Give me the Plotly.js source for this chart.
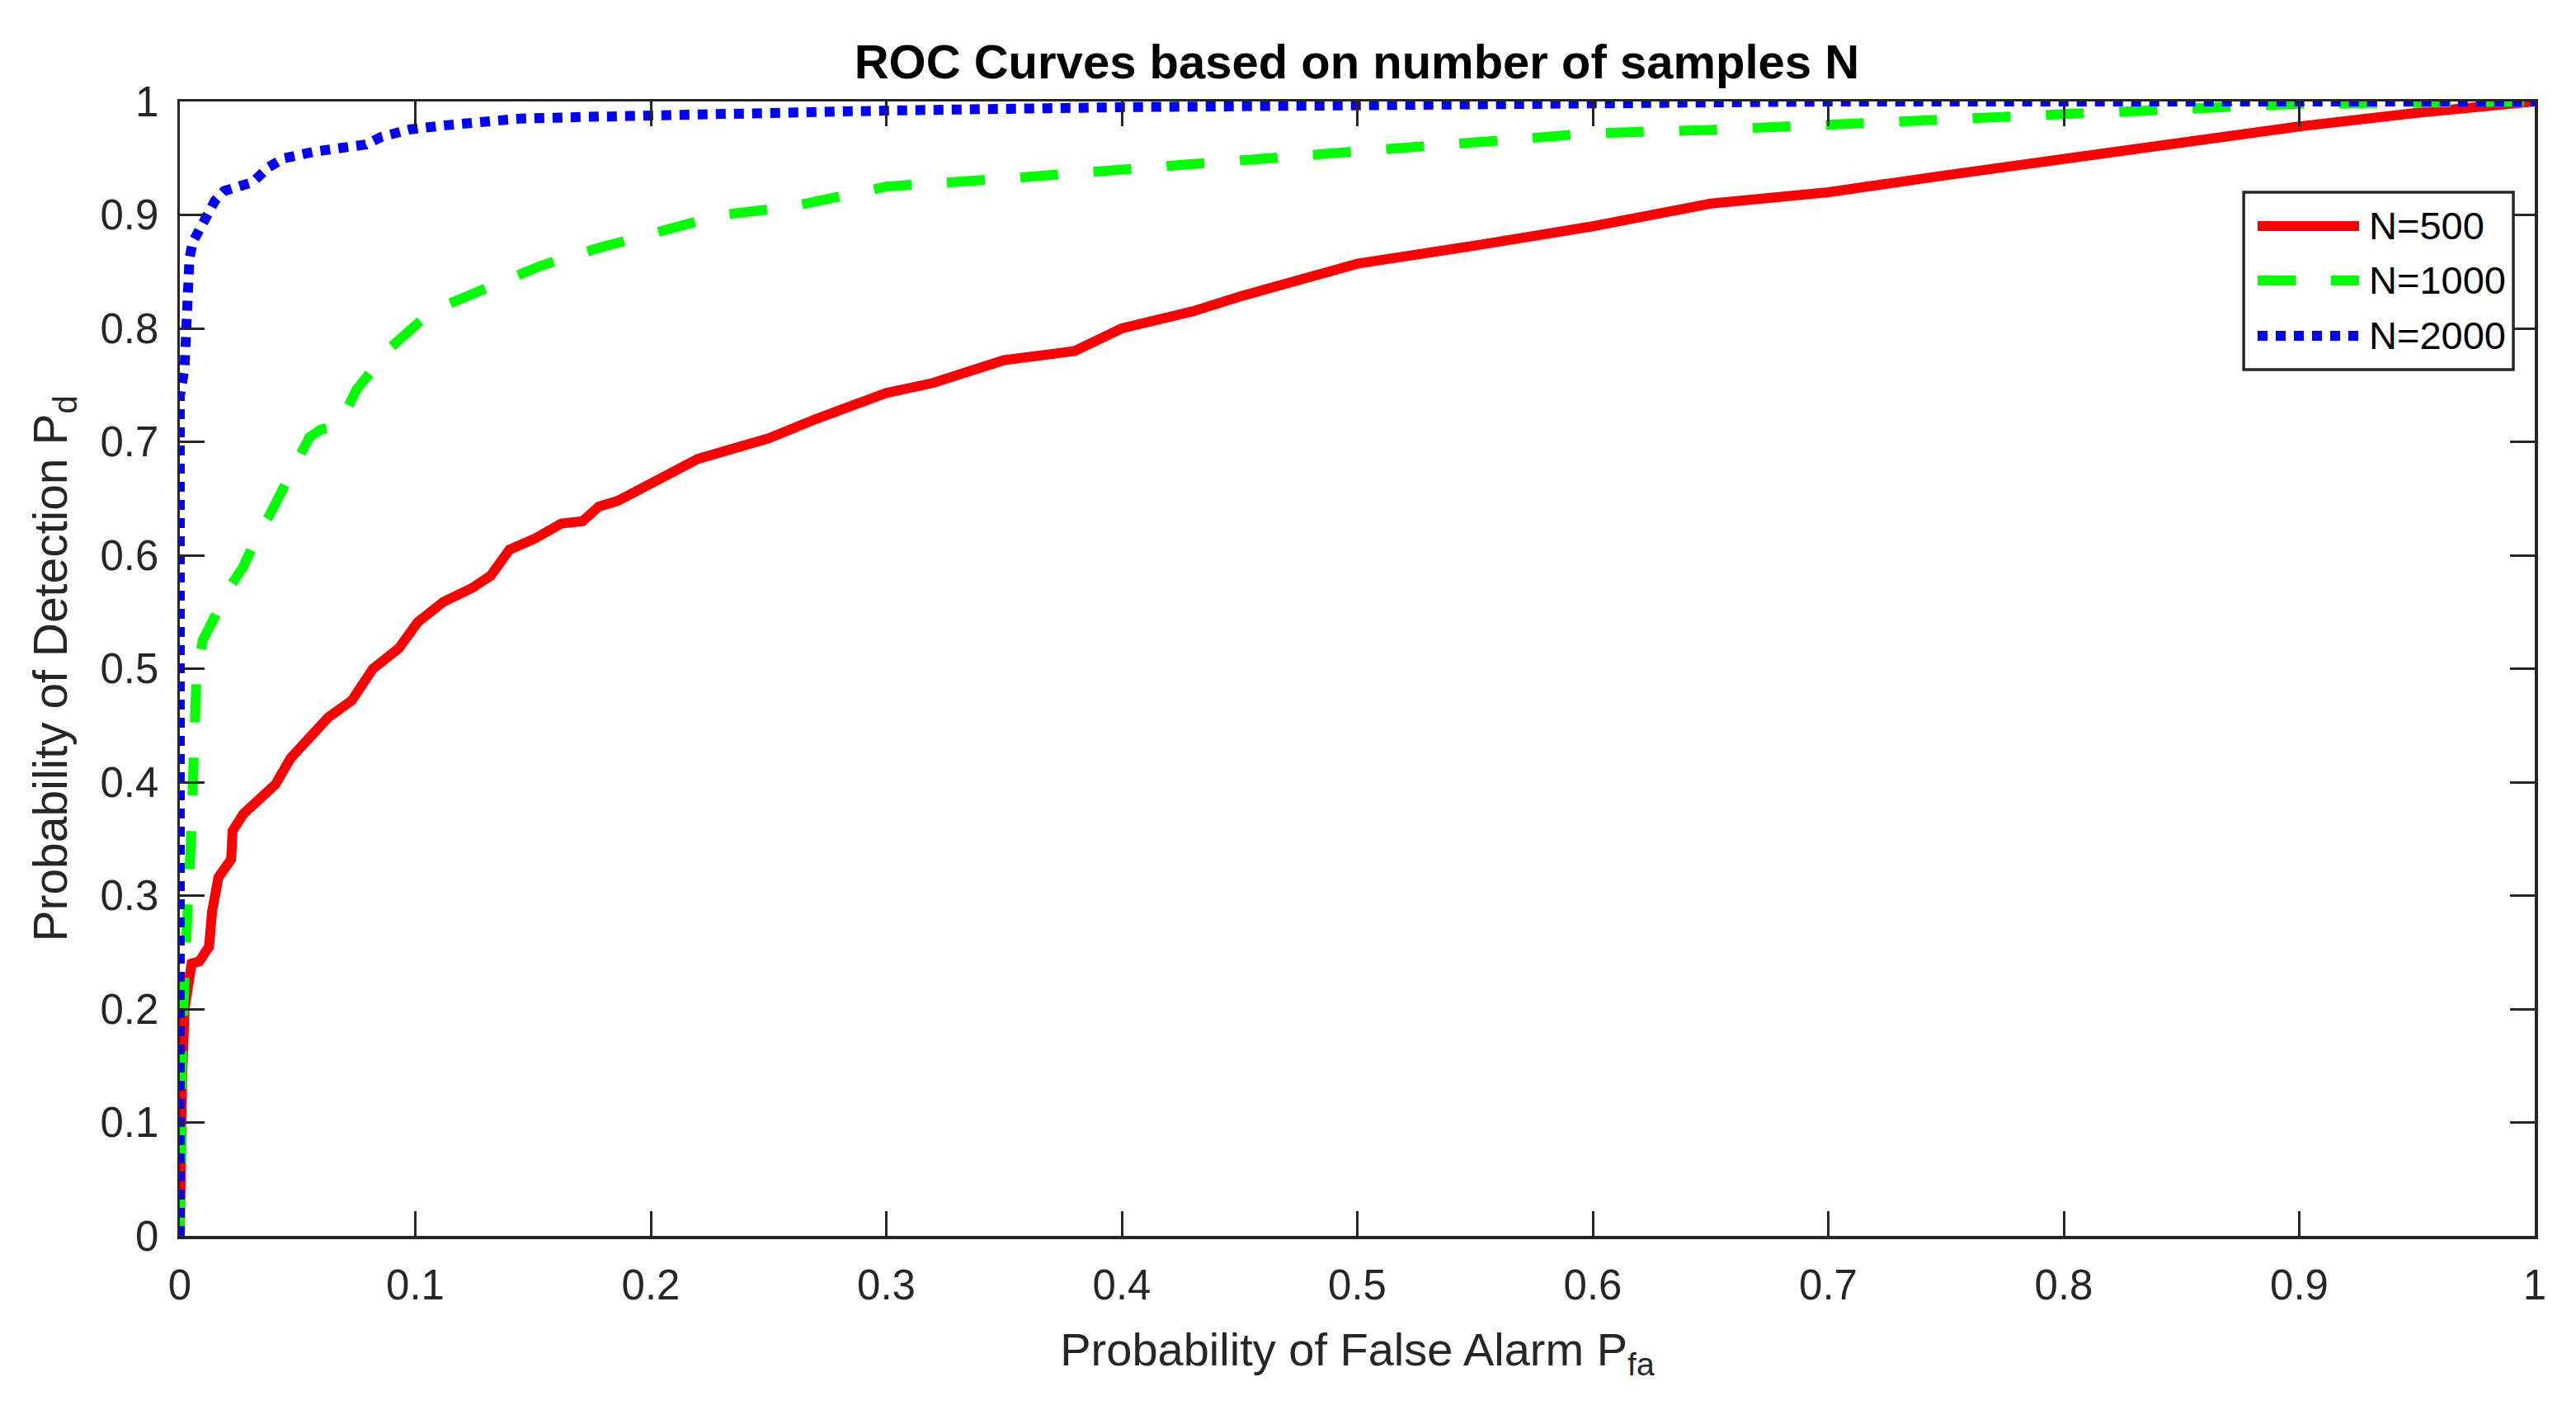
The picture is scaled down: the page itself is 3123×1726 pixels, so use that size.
<!DOCTYPE html>
<html>
<head>
<meta charset="utf-8">
<script src="https://cdn.plot.ly/plotly-3.0.1.min.js"></script>
<style>html,body{margin:0;padding:0;background:#fff;}#chart{width:3123px;height:1726px;}</style>
</head>
<body>
<div id="chart"></div>
<script>
// ---- data ----
const seriesNames = ["N=500", "N=1000", "N=2000"];
const seriesColors = ["#ff0000", "#00ff00", "#0000ff"];
const seriesDash = ["solid", "46px,43px", "12px,10px"];

const pfa500 = [0, 0, 0.001, 0.002, 0.003, 0.004, 0.005, 0.0083, 0.0124, 0.0137, 0.0164, 0.0218, 0.0224, 0.027, 0.034, 0.0406, 0.047, 0.055, 0.063, 0.073, 0.082, 0.093, 0.101, 0.112, 0.124, 0.132, 0.14, 0.151, 0.162, 0.171, 0.178, 0.186, 0.2, 0.22, 0.25, 0.27, 0.3, 0.32, 0.35, 0.38, 0.4, 0.43, 0.45, 0.48, 0.5, 0.55, 0.6, 0.65, 0.7, 0.75, 0.8, 0.85, 0.9, 0.95, 1];
const pd500 = [0, 0.1, 0.14, 0.2, 0.22, 0.235, 0.24, 0.242, 0.255, 0.286, 0.316, 0.332, 0.357, 0.372, 0.385, 0.398, 0.421, 0.439, 0.457, 0.472, 0.5, 0.518, 0.541, 0.559, 0.571, 0.582, 0.605, 0.615, 0.628, 0.63, 0.643, 0.648, 0.664, 0.685, 0.703, 0.72, 0.743, 0.752, 0.772, 0.78, 0.80, 0.815, 0.828, 0.845, 0.857, 0.873, 0.89, 0.91, 0.92, 0.935, 0.95, 0.965, 0.978, 0.99, 1];

const pfa1000 = [0, 0, 0.001, 0.002, 0.003, 0.003, 0.005, 0.006, 0.007, 0.0097, 0.015, 0.0218, 0.027, 0.034, 0.038, 0.0446, 0.05, 0.055, 0.06, 0.0675, 0.075, 0.09, 0.107, 0.13, 0.153, 0.178, 0.203, 0.23, 0.259, 0.3, 0.35, 0.4, 0.45, 0.5, 0.55, 0.6, 0.65, 0.7, 0.75, 0.8, 0.85, 0.9, 1];
const pd1000 = [0, 0.12, 0.17, 0.23, 0.265, 0.3, 0.36, 0.43, 0.49, 0.525, 0.548, 0.574, 0.59, 0.622, 0.635, 0.663, 0.681, 0.704, 0.711, 0.714, 0.746, 0.784, 0.8155, 0.836, 0.855, 0.871, 0.885, 0.9, 0.907, 0.925, 0.932, 0.94, 0.95, 0.958, 0.965, 0.972, 0.975, 0.98, 0.985, 0.99, 0.995, 0.998, 1];

const pfa2000 = [0, 0, 0.002, 0.0025, 0.0034, 0.0041, 0.0055, 0.0088, 0.0122, 0.0149, 0.0188, 0.0242, 0.031, 0.0376, 0.0443, 0.0577, 0.071, 0.079, 0.0858, 0.098, 0.1127, 0.1328, 0.1449, 0.1744, 0.193, 0.25, 0.3, 0.4, 0.5, 0.6, 0.7, 1];
const pd2000 = [0, 0.74, 0.765, 0.8, 0.837, 0.862, 0.876, 0.888, 0.9, 0.9125, 0.921, 0.9236, 0.929, 0.942, 0.95, 0.956, 0.96, 0.962, 0.969, 0.9755, 0.979, 0.9816, 0.985, 0.9865, 0.9876, 0.99, 0.992, 0.995, 0.997, 0.999, 1, 1];

const tickVals = [0, 0.1, 0.2, 0.3, 0.4, 0.5, 0.6, 0.7, 0.8, 0.9, 1];
const tickText = ["0", "0.1", "0.2", "0.3", "0.4", "0.5", "0.6", "0.7", "0.8", "0.9", "1"];

// ---- figure ----
const xs = [pfa500, pfa1000, pfa2000];
const ys = [pd500, pd1000, pd2000];
const traces = seriesNames.map((n, i) => ({
  type: "scatter", mode: "lines", name: n,
  x: xs[i], y: ys[i],
  line: {color: seriesColors[i], width: 12, dash: seriesDash[i], shape: "linear"},
  showlegend: false
}));

const axisColor = "#262626";
const FONT = "Liberation Sans, Arial, Helvetica, sans-serif";

// manual legend (MATLAB style: long sample lines)
const legX0 = 0.8764, legX1 = 0.9909, legY0 = 0.7636, legY1 = 0.92;
const rowY = [0.8902, 0.8422, 0.7935];
const sampleX0 = 0.8823, sampleX1 = 0.9254, textX = 0.9289;
const shapes = [{
  type: "rect", xref: "paper", yref: "paper", x0: legX0, x1: legX1, y0: legY0, y1: legY1,
  line: {color: axisColor, width: 3.5}, fillcolor: "#ffffff", layer: "above"
}];
const annotations = [];
seriesNames.forEach((n, i) => {
  shapes.push({type: "line", xref: "paper", yref: "paper", x0: sampleX0, x1: sampleX1, y0: rowY[i], y1: rowY[i],
    line: {color: seriesColors[i], width: 12, dash: seriesDash[i]}, layer: "above"});
  annotations.push({xref: "paper", yref: "paper", x: textX, y: rowY[i], xanchor: "left", yanchor: "middle",
    text: n, showarrow: false, font: {family: FONT, size: 47, color: "#000000"}});
});

const axisCommon = {
  range: [0, 1], tickvals: tickVals, ticktext: tickText,
  ticks: "inside", ticklen: 30, tickwidth: 3, tickcolor: axisColor,
  showline: true, linecolor: axisColor, linewidth: 3.5, mirror: "ticks",
  showgrid: false, zeroline: false, fixedrange: true,
  tickfont: {family: FONT, size: 51, color: axisColor}
};

const layout = {
  width: 3123, height: 1726,
  margin: {l: 218, r: 50, t: 123, b: 228},
  paper_bgcolor: "#ffffff", plot_bgcolor: "#ffffff",
  font: {family: FONT, color: axisColor},
  title: {text: "<b>ROC Curves based on number of samples N</b>", x: 0.5267, xanchor: "center",
    y: 0.957, yref: "container", yanchor: "middle",
    font: {family: FONT, size: 58, color: "#000000"}},
  xaxis: Object.assign({}, axisCommon, {
    ticklabelstandoff: 12,
    title: {text: "Probability of False Alarm P<sub>fa</sub>", standoff: 32,
      font: {family: FONT, size: 56, color: axisColor}}
  }),
  yaxis: Object.assign({}, axisCommon, {
    ticklabelstandoff: 12,
    title: {text: "Probability of Detection P<sub>d</sub>", standoff: 22,
      font: {family: FONT, size: 57, color: axisColor}}
  }),
  shapes: shapes,
  annotations: annotations,
  showlegend: false
};

Plotly.newPlot("chart", traces, layout, {staticPlot: true, displayModeBar: false});
</script>
</body>
</html>
